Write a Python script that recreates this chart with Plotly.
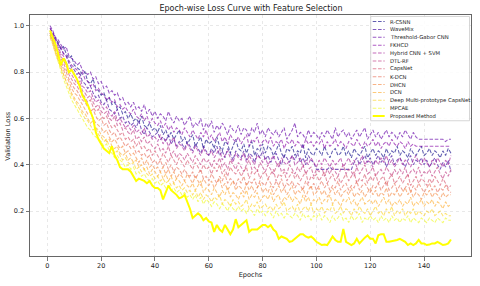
import plotly.graph_objects as go

epochs = list(range(1, 151))

names = ["R-CSNN", "WaveMix", "Threshold-Gabor CNN", "FKHCD", "Hybrid CNN + SVM",
         "DTL-RF", "CapsNet", "K-DCN", "DHCN", "DCN", "Deep Multi-prototype CapsNet",
         "MPCAE", "Proposed Method"]

r_csnn = [0.97, 0.96, 0.94, 0.93, 0.90, 0.91, 0.88, 0.86, 0.87, 0.83,
          0.82, 0.81, 0.79, 0.80, 0.76, 0.75, 0.77, 0.73, 0.72, 0.70,
          0.71, 0.68, 0.69, 0.66, 0.67, 0.64, 0.65, 0.62, 0.63, 0.60,
          0.62, 0.59, 0.60, 0.58, 0.61, 0.57, 0.56, 0.58, 0.55, 0.56,
          0.54, 0.57, 0.53, 0.55, 0.52, 0.54, 0.51, 0.53, 0.55, 0.50,
          0.52, 0.49, 0.51, 0.53, 0.48, 0.50, 0.52, 0.47, 0.51, 0.49,
          0.50, 0.47, 0.52, 0.48, 0.46, 0.50, 0.49, 0.45, 0.48, 0.51,
          0.47, 0.46, 0.49, 0.45, 0.48, 0.50, 0.44, 0.47, 0.46, 0.49,
          0.45, 0.48, 0.47, 0.44, 0.46, 0.49, 0.45, 0.43, 0.47, 0.46,
          0.48, 0.44, 0.46, 0.45, 0.49, 0.43, 0.47, 0.45, 0.44, 0.47,
          0.46, 0.44, 0.48, 0.45, 0.43, 0.46, 0.47, 0.44, 0.45, 0.48,
          0.44, 0.46, 0.43, 0.47, 0.45, 0.44, 0.46, 0.48, 0.43, 0.45,
          0.47, 0.44, 0.46, 0.45, 0.43, 0.47, 0.44, 0.46, 0.45, 0.48,
          0.44, 0.46, 0.45, 0.43, 0.47, 0.45, 0.44, 0.46, 0.48, 0.44,
          0.45, 0.47, 0.44, 0.46, 0.45, 0.43, 0.46, 0.44, 0.47, 0.45]

wavemix = [0.99, 0.97, 0.95, 0.92, 0.90, 0.88, 0.87, 0.84, 0.82, 0.81,
           0.79, 0.80, 0.76, 0.75, 0.73, 0.74, 0.71, 0.69, 0.70, 0.67,
           0.66, 0.68, 0.64, 0.63, 0.62, 0.64, 0.60, 0.61, 0.58, 0.59,
           0.57, 0.58, 0.56, 0.59, 0.55, 0.53, 0.56, 0.54, 0.52, 0.53,
           0.54, 0.51, 0.52, 0.50, 0.53, 0.49, 0.51, 0.48, 0.50, 0.49,
           0.47, 0.50, 0.48, 0.46, 0.49, 0.47, 0.45, 0.48, 0.46, 0.44,
           0.47, 0.45, 0.48, 0.44, 0.46, 0.43, 0.47, 0.45, 0.42, 0.46,
           0.44, 0.43, 0.46, 0.42, 0.45, 0.44, 0.41, 0.45, 0.43, 0.46,
           0.42, 0.44, 0.41, 0.43, 0.45, 0.42, 0.40, 0.44, 0.43, 0.41,
           0.44, 0.42, 0.45, 0.41, 0.43, 0.40, 0.44, 0.42, 0.41, 0.38,
           0.38, 0.38, 0.38, 0.38, 0.39, 0.38, 0.38, 0.38, 0.38, 0.38,
           0.38, 0.38, 0.38, 0.41, 0.43, 0.40, 0.42, 0.44, 0.41, 0.43,
           0.40, 0.42, 0.44, 0.41, 0.43, 0.39, 0.42, 0.44, 0.40, 0.42,
           0.43, 0.41, 0.39, 0.42, 0.44, 0.40, 0.42, 0.41, 0.43, 0.40,
           0.42, 0.39, 0.41, 0.43, 0.40, 0.38, 0.41, 0.39, 0.42, 0.37]

threshold_gabor = [1.00, 0.98, 0.95, 0.94, 0.92, 0.90, 0.91, 0.87, 0.86, 0.85,
                   0.83, 0.84, 0.81, 0.80, 0.79, 0.80, 0.77, 0.78, 0.75, 0.76,
                   0.73, 0.74, 0.71, 0.72, 0.70, 0.71, 0.68, 0.69, 0.66, 0.67,
                   0.65, 0.67, 0.64, 0.65, 0.63, 0.66, 0.62, 0.64, 0.61, 0.63,
                   0.60, 0.62, 0.61, 0.59, 0.63, 0.60, 0.58, 0.61, 0.59, 0.60,
                   0.57, 0.59, 0.61, 0.56, 0.58, 0.57, 0.60, 0.55, 0.58, 0.56,
                   0.59, 0.54, 0.57, 0.55, 0.58, 0.56, 0.53, 0.57, 0.55, 0.54,
                   0.57, 0.53, 0.56, 0.55, 0.52, 0.56, 0.54, 0.58, 0.53, 0.55,
                   0.52, 0.56, 0.54, 0.53, 0.55, 0.52, 0.54, 0.56, 0.51, 0.53,
                   0.55, 0.58, 0.52, 0.54, 0.53, 0.51, 0.55, 0.52, 0.54, 0.53,
                   0.51, 0.54, 0.52, 0.55, 0.53, 0.51, 0.56, 0.52, 0.54, 0.55,
                   0.52, 0.54, 0.51, 0.53, 0.55, 0.52, 0.54, 0.56, 0.51, 0.53,
                   0.55, 0.52, 0.54, 0.51, 0.53, 0.55, 0.52, 0.54, 0.53, 0.51,
                   0.54, 0.52, 0.55, 0.53, 0.51, 0.54, 0.52, 0.51, 0.51, 0.51,
                   0.51, 0.51, 0.51, 0.51, 0.51, 0.51, 0.51, 0.50, 0.51, 0.51]

fkhcd = [0.99, 0.97, 0.94, 0.92, 0.91, 0.88, 0.87, 0.85, 0.83, 0.82,
         0.81, 0.79, 0.80, 0.77, 0.76, 0.74, 0.75, 0.72, 0.73, 0.71,
         0.70, 0.68, 0.69, 0.67, 0.68, 0.65, 0.66, 0.64, 0.65, 0.63,
         0.62, 0.64, 0.61, 0.60, 0.62, 0.59, 0.61, 0.58, 0.60, 0.58,
         0.57, 0.59, 0.56, 0.58, 0.55, 0.57, 0.54, 0.56, 0.55, 0.53,
         0.56, 0.54, 0.52, 0.55, 0.53, 0.51, 0.54, 0.52, 0.55, 0.51,
         0.53, 0.50, 0.52, 0.54, 0.50, 0.52, 0.49, 0.53, 0.51, 0.50,
         0.52, 0.49, 0.51, 0.53, 0.48, 0.51, 0.50, 0.52, 0.48, 0.50,
         0.51, 0.49, 0.52, 0.48, 0.50, 0.49, 0.51, 0.47, 0.50, 0.49,
         0.51, 0.48, 0.50, 0.49, 0.47, 0.51, 0.49, 0.50, 0.48, 0.50,
         0.49, 0.51, 0.47, 0.50, 0.48, 0.49, 0.51, 0.48, 0.50, 0.49,
         0.47, 0.50, 0.49, 0.48, 0.51, 0.49, 0.47, 0.50, 0.48, 0.49,
         0.51, 0.48, 0.50, 0.47, 0.49, 0.50, 0.48, 0.51, 0.49, 0.48,
         0.50, 0.49, 0.47, 0.50, 0.48, 0.49, 0.48, 0.48, 0.48, 0.48,
         0.48, 0.48, 0.48, 0.48, 0.48, 0.48, 0.48, 0.48, 0.48, 0.48]

hybrid_cnn_svm = [0.98, 0.96, 0.93, 0.91, 0.88, 0.87, 0.84, 0.82, 0.81, 0.79,
                  0.77, 0.78, 0.74, 0.73, 0.71, 0.72, 0.69, 0.67, 0.68, 0.66,
                  0.64, 0.65, 0.62, 0.61, 0.63, 0.59, 0.60, 0.58, 0.56, 0.57,
                  0.55, 0.57, 0.54, 0.55, 0.53, 0.56, 0.52, 0.53, 0.51, 0.52,
                  0.50, 0.53, 0.49, 0.51, 0.48, 0.50, 0.52, 0.47, 0.49, 0.48,
                  0.46, 0.49, 0.47, 0.45, 0.48, 0.46, 0.44, 0.47, 0.45, 0.44,
                  0.46, 0.43, 0.45, 0.47, 0.42, 0.44, 0.46, 0.43, 0.41, 0.45,
                  0.43, 0.42, 0.45, 0.41, 0.44, 0.42, 0.40, 0.44, 0.43, 0.41,
                  0.43, 0.40, 0.42, 0.44, 0.41, 0.39, 0.43, 0.41, 0.40, 0.42,
                  0.44, 0.40, 0.41, 0.43, 0.39, 0.42, 0.40, 0.43, 0.41, 0.39,
                  0.42, 0.40, 0.43, 0.41, 0.39, 0.42, 0.40, 0.41, 0.43, 0.39,
                  0.41, 0.43, 0.40, 0.42, 0.39, 0.41, 0.44, 0.40, 0.42, 0.41,
                  0.39, 0.42, 0.40, 0.43, 0.41, 0.44, 0.40, 0.42, 0.39, 0.41,
                  0.43, 0.40, 0.42, 0.41, 0.39, 0.42, 0.44, 0.41, 0.40, 0.43,
                  0.41, 0.39, 0.42, 0.40, 0.43, 0.41, 0.39, 0.42, 0.40, 0.44]

dtl_rf = [0.97, 0.95, 0.92, 0.90, 0.87, 0.85, 0.83, 0.80, 0.79, 0.77,
          0.75, 0.76, 0.72, 0.71, 0.69, 0.70, 0.67, 0.65, 0.66, 0.63,
          0.62, 0.63, 0.60, 0.59, 0.61, 0.57, 0.58, 0.55, 0.56, 0.54,
          0.53, 0.55, 0.51, 0.52, 0.50, 0.52, 0.49, 0.50, 0.48, 0.47,
          0.49, 0.46, 0.47, 0.45, 0.48, 0.44, 0.46, 0.43, 0.45, 0.44,
          0.42, 0.45, 0.43, 0.41, 0.44, 0.42, 0.40, 0.43, 0.41, 0.42,
          0.39, 0.42, 0.40, 0.43, 0.39, 0.41, 0.38, 0.42, 0.40, 0.38,
          0.41, 0.39, 0.37, 0.40, 0.42, 0.38, 0.39, 0.37, 0.41, 0.39,
          0.37, 0.40, 0.38, 0.36, 0.39, 0.41, 0.37, 0.38, 0.36, 0.40,
          0.38, 0.36, 0.39, 0.37, 0.40, 0.36, 0.38, 0.39, 0.35, 0.38,
          0.37, 0.39, 0.35, 0.38, 0.36, 0.39, 0.37, 0.35, 0.38, 0.40,
          0.36, 0.38, 0.37, 0.35, 0.39, 0.36, 0.38, 0.40, 0.36, 0.37,
          0.39, 0.35, 0.37, 0.38, 0.36, 0.39, 0.37, 0.35, 0.38, 0.36,
          0.38, 0.36, 0.39, 0.35, 0.37, 0.38, 0.36, 0.39, 0.35, 0.37,
          0.36, 0.38, 0.35, 0.37, 0.39, 0.36, 0.34, 0.37, 0.35, 0.38]

capsnet = [0.96, 0.94, 0.91, 0.89, 0.86, 0.84, 0.81, 0.79, 0.77, 0.75,
           0.74, 0.72, 0.71, 0.69, 0.67, 0.68, 0.65, 0.63, 0.64, 0.61,
           0.60, 0.61, 0.58, 0.56, 0.57, 0.55, 0.53, 0.54, 0.51, 0.52,
           0.50, 0.51, 0.48, 0.50, 0.47, 0.48, 0.46, 0.47, 0.44, 0.46,
           0.44, 0.42, 0.45, 0.43, 0.41, 0.44, 0.42, 0.40, 0.43, 0.41,
           0.39, 0.42, 0.40, 0.38, 0.41, 0.39, 0.37, 0.40, 0.38, 0.39,
           0.36, 0.39, 0.37, 0.40, 0.36, 0.38, 0.35, 0.39, 0.37, 0.36,
           0.38, 0.35, 0.37, 0.39, 0.34, 0.37, 0.36, 0.38, 0.34, 0.36,
           0.37, 0.34, 0.36, 0.38, 0.33, 0.36, 0.35, 0.37, 0.33, 0.35,
           0.37, 0.34, 0.36, 0.33, 0.35, 0.37, 0.32, 0.35, 0.34, 0.36,
           0.33, 0.35, 0.37, 0.32, 0.34, 0.36, 0.33, 0.35, 0.32, 0.34,
           0.36, 0.33, 0.35, 0.37, 0.32, 0.34, 0.33, 0.36, 0.32, 0.35,
           0.33, 0.36, 0.32, 0.34, 0.35, 0.31, 0.34, 0.36, 0.32, 0.33,
           0.35, 0.32, 0.34, 0.36, 0.31, 0.33, 0.35, 0.32, 0.34, 0.33,
           0.31, 0.34, 0.32, 0.35, 0.33, 0.31, 0.34, 0.32, 0.30, 0.31]

k_dcn = [0.97, 0.93, 0.90, 0.87, 0.85, 0.82, 0.80, 0.77, 0.75, 0.73,
         0.72, 0.70, 0.68, 0.67, 0.65, 0.63, 0.64, 0.61, 0.59, 0.60,
         0.57, 0.58, 0.55, 0.53, 0.54, 0.51, 0.52, 0.50, 0.48, 0.49,
         0.47, 0.48, 0.45, 0.46, 0.44, 0.45, 0.43, 0.44, 0.41, 0.42,
         0.40, 0.42, 0.39, 0.41, 0.38, 0.40, 0.37, 0.39, 0.38, 0.36,
         0.38, 0.36, 0.35, 0.37, 0.34, 0.36, 0.38, 0.34, 0.35, 0.33,
         0.36, 0.34, 0.32, 0.35, 0.33, 0.36, 0.32, 0.34, 0.33, 0.31,
         0.34, 0.32, 0.35, 0.31, 0.33, 0.32, 0.34, 0.30, 0.33, 0.32,
         0.31, 0.34, 0.32, 0.30, 0.33, 0.31, 0.34, 0.30, 0.32, 0.31,
         0.33, 0.30, 0.32, 0.31, 0.29, 0.33, 0.31, 0.30, 0.32, 0.29,
         0.31, 0.33, 0.30, 0.32, 0.29, 0.31, 0.30, 0.33, 0.29, 0.31,
         0.32, 0.29, 0.31, 0.30, 0.33, 0.29, 0.31, 0.32, 0.30, 0.28,
         0.31, 0.30, 0.32, 0.29, 0.31, 0.33, 0.29, 0.30, 0.32, 0.29,
         0.31, 0.29, 0.30, 0.32, 0.28, 0.31, 0.29, 0.32, 0.30, 0.28,
         0.30, 0.32, 0.29, 0.31, 0.28, 0.30, 0.29, 0.31, 0.29, 0.28]

dhcn = [0.96, 0.93, 0.89, 0.86, 0.83, 0.81, 0.78, 0.76, 0.73, 0.71,
        0.70, 0.68, 0.66, 0.64, 0.62, 0.63, 0.60, 0.58, 0.57, 0.56,
        0.54, 0.55, 0.52, 0.50, 0.51, 0.49, 0.47, 0.48, 0.45, 0.46,
        0.44, 0.45, 0.43, 0.41, 0.43, 0.40, 0.42, 0.39, 0.40, 0.38,
        0.39, 0.37, 0.39, 0.36, 0.38, 0.35, 0.37, 0.34, 0.36, 0.35,
        0.33, 0.36, 0.34, 0.32, 0.35, 0.33, 0.31, 0.34, 0.32, 0.31,
        0.33, 0.30, 0.32, 0.34, 0.30, 0.32, 0.29, 0.31, 0.33, 0.29,
        0.31, 0.30, 0.28, 0.32, 0.29, 0.31, 0.28, 0.30, 0.32, 0.28,
        0.30, 0.28, 0.31, 0.27, 0.29, 0.31, 0.28, 0.30, 0.27, 0.29,
        0.31, 0.27, 0.29, 0.28, 0.30, 0.26, 0.29, 0.31, 0.27, 0.28,
        0.30, 0.27, 0.29, 0.26, 0.28, 0.30, 0.27, 0.29, 0.26, 0.28,
        0.29, 0.27, 0.30, 0.26, 0.28, 0.27, 0.29, 0.26, 0.28, 0.30,
        0.27, 0.29, 0.26, 0.28, 0.27, 0.30, 0.26, 0.28, 0.27, 0.29,
        0.26, 0.28, 0.30, 0.27, 0.29, 0.26, 0.28, 0.27, 0.25, 0.28,
        0.27, 0.29, 0.26, 0.28, 0.27, 0.25, 0.28, 0.26, 0.27, 0.27]

dcn = [0.95, 0.92, 0.88, 0.85, 0.82, 0.79, 0.76, 0.74, 0.71, 0.69,
       0.67, 0.66, 0.63, 0.62, 0.60, 0.58, 0.59, 0.56, 0.55, 0.53,
       0.52, 0.50, 0.51, 0.48, 0.47, 0.48, 0.45, 0.44, 0.45, 0.42,
       0.43, 0.41, 0.42, 0.39, 0.40, 0.38, 0.39, 0.36, 0.38, 0.37,
       0.35, 0.37, 0.34, 0.36, 0.33, 0.35, 0.32, 0.34, 0.33, 0.31,
       0.33, 0.31, 0.30, 0.32, 0.29, 0.31, 0.33, 0.28, 0.30, 0.29,
       0.27, 0.30, 0.28, 0.26, 0.29, 0.27, 0.30, 0.26, 0.28, 0.27,
       0.25, 0.28, 0.26, 0.29, 0.25, 0.27, 0.26, 0.28, 0.24, 0.26,
       0.27, 0.25, 0.28, 0.24, 0.26, 0.27, 0.23, 0.26, 0.25, 0.27,
       0.24, 0.26, 0.25, 0.23, 0.27, 0.24, 0.26, 0.23, 0.25, 0.24,
       0.26, 0.23, 0.25, 0.24, 0.27, 0.23, 0.25, 0.24, 0.22, 0.25,
       0.24, 0.26, 0.23, 0.25, 0.22, 0.24, 0.26, 0.23, 0.24, 0.25,
       0.23, 0.25, 0.22, 0.24, 0.26, 0.23, 0.25, 0.22, 0.24, 0.23,
       0.25, 0.22, 0.24, 0.23, 0.26, 0.22, 0.24, 0.23, 0.25, 0.22,
       0.24, 0.23, 0.25, 0.22, 0.24, 0.23, 0.21, 0.24, 0.22, 0.23]

deep_multi_capsnet = [0.97, 0.93, 0.89, 0.85, 0.82, 0.79, 0.76, 0.73, 0.70, 0.68,
                      0.66, 0.64, 0.62, 0.60, 0.59, 0.57, 0.55, 0.56, 0.53, 0.52,
                      0.50, 0.51, 0.48, 0.47, 0.45, 0.46, 0.44, 0.42, 0.43, 0.41,
                      0.40, 0.41, 0.38, 0.39, 0.37, 0.38, 0.36, 0.35, 0.36, 0.34,
                      0.35, 0.33, 0.34, 0.32, 0.33, 0.31, 0.32, 0.30, 0.31, 0.29,
                      0.30, 0.28, 0.29, 0.27, 0.29, 0.26, 0.28, 0.25, 0.27, 0.26,
                      0.24, 0.26, 0.25, 0.27, 0.23, 0.25, 0.24, 0.22, 0.25, 0.23,
                      0.24, 0.22, 0.23, 0.25, 0.21, 0.23, 0.22, 0.24, 0.21, 0.22,
                      0.23, 0.21, 0.22, 0.20, 0.23, 0.21, 0.22, 0.24, 0.20, 0.21,
                      0.22, 0.20, 0.23, 0.19, 0.21, 0.22, 0.20, 0.23, 0.19, 0.21,
                      0.20, 0.22, 0.19, 0.21, 0.20, 0.23, 0.19, 0.20, 0.22, 0.19,
                      0.21, 0.20, 0.18, 0.21, 0.19, 0.22, 0.20, 0.19, 0.21, 0.18,
                      0.20, 0.22, 0.19, 0.20, 0.18, 0.21, 0.19, 0.22, 0.18, 0.20,
                      0.19, 0.21, 0.18, 0.20, 0.19, 0.21, 0.18, 0.20, 0.19, 0.18,
                      0.20, 0.19, 0.21, 0.18, 0.19, 0.20, 0.18, 0.19, 0.18, 0.18]

mpcae = [0.96, 0.92, 0.88, 0.84, 0.80, 0.77, 0.74, 0.71, 0.68, 0.66,
         0.64, 0.62, 0.60, 0.58, 0.56, 0.55, 0.53, 0.52, 0.51, 0.50,
         0.48, 0.49, 0.46, 0.45, 0.43, 0.44, 0.42, 0.41, 0.39, 0.40,
         0.38, 0.39, 0.36, 0.37, 0.35, 0.36, 0.34, 0.33, 0.34, 0.32,
         0.33, 0.31, 0.32, 0.30, 0.31, 0.29, 0.30, 0.28, 0.29, 0.27,
         0.28, 0.26, 0.27, 0.25, 0.27, 0.24, 0.26, 0.23, 0.25, 0.24,
         0.22, 0.24, 0.23, 0.21, 0.23, 0.22, 0.20, 0.23, 0.21, 0.20,
         0.22, 0.20, 0.21, 0.19, 0.21, 0.20, 0.18, 0.21, 0.19, 0.20,
         0.18, 0.20, 0.19, 0.17, 0.20, 0.18, 0.19, 0.17, 0.19, 0.18,
         0.17, 0.19, 0.18, 0.16, 0.19, 0.17, 0.18, 0.16, 0.18, 0.17,
         0.19, 0.16, 0.18, 0.17, 0.15, 0.18, 0.16, 0.17, 0.19, 0.16,
         0.17, 0.15, 0.18, 0.16, 0.17, 0.19, 0.15, 0.17, 0.16, 0.18,
         0.16, 0.17, 0.15, 0.18, 0.16, 0.17, 0.15, 0.18, 0.16, 0.17,
         0.15, 0.17, 0.16, 0.18, 0.15, 0.17, 0.16, 0.15, 0.17, 0.16,
         0.15, 0.17, 0.16, 0.15, 0.17, 0.16, 0.15, 0.17, 0.16, 0.16]

proposed = [0.98, 0.95, 0.92, 0.88, 0.83, 0.86, 0.84, 0.80, 0.81, 0.79,
            0.77, 0.74, 0.70, 0.68, 0.66, 0.63, 0.60, 0.54, 0.51, 0.49,
            0.47, 0.46, 0.45, 0.48, 0.44, 0.42, 0.39, 0.38, 0.38, 0.38,
            0.37, 0.35, 0.33, 0.34, 0.335, 0.33, 0.32, 0.33, 0.31, 0.30,
            0.30, 0.29, 0.25, 0.28, 0.31, 0.29, 0.28, 0.27, 0.255, 0.26,
            0.27, 0.24, 0.21, 0.17, 0.18, 0.19, 0.18, 0.16, 0.17, 0.155,
            0.15, 0.11, 0.14, 0.12, 0.11, 0.14, 0.12, 0.10, 0.12, 0.165,
            0.13, 0.14, 0.15, 0.16, 0.11, 0.12, 0.12, 0.12, 0.13, 0.14,
            0.14, 0.13, 0.14, 0.12, 0.11, 0.08, 0.09, 0.085, 0.08, 0.067,
            0.07, 0.08, 0.09, 0.10, 0.10, 0.09, 0.085, 0.09, 0.08, 0.067,
            0.06, 0.053, 0.055, 0.053, 0.07, 0.09, 0.075, 0.067, 0.067, 0.123,
            0.067, 0.06, 0.053, 0.06, 0.08, 0.06, 0.075, 0.085, 0.095, 0.08,
            0.08, 0.06, 0.095, 0.10, 0.10, 0.067, 0.067, 0.07, 0.07, 0.075,
            0.08, 0.075, 0.067, 0.053, 0.06, 0.053, 0.06, 0.075, 0.06, 0.06,
            0.053, 0.055, 0.06, 0.06, 0.067, 0.06, 0.053, 0.055, 0.06, 0.077]

series = [r_csnn, wavemix, threshold_gabor, fkhcd, hybrid_cnn_svm, dtl_rf, capsnet,
          k_dcn, dhcn, dcn, deep_multi_capsnet, mpcae, proposed]

x_ticks = [0, 20, 40, 60, 80, 100, 120, 140]
y_ticks = [0.2, 0.4, 0.6, 0.8, 1.0]
y_tick_labels = ["0.2", "0.4", "0.6", "0.8", "1.0"]

# plasma colormap samples for the 12 baselines, solid yellow for proposed
colors = ["#0d0887", "#3e049c", "#6300a7", "#8606a6", "#a62098", "#c03a83",
          "#d5546e", "#e76f5a", "#f58c46", "#fdad32", "#fcd225", "#f0f921", "#ffff00"]

W, H = 480, 286
L, R, T, B = 30, 472, 15, 260
FONT = "DejaVu Sans"
DASH = "3.6px,1.7px"
ALPHA = 0.65

fig = go.Figure()
for i, (nm, ys) in enumerate(zip(names, series)):
    last = i == len(series) - 1
    fig.add_trace(go.Scatter(
        x=epochs, y=ys, mode="lines", name=nm, showlegend=False, hoverinfo="skip",
        line=dict(color=colors[i], width=2 if last else 1.05,
                  dash="solid" if last else DASH),
        opacity=1.0 if last else ALPHA,
    ))

def px_x(p):
    return (p - L) / (R - L)

def px_y(p):
    return (B - p) / (B - T)

shapes = []
annotations = []

# legend box
lx0, lx1, ly0, ly1 = 371.5, 470.5, 16.5, 122.5
shapes.append(dict(type="rect", xref="paper", yref="paper",
                   x0=px_x(lx0), x1=px_x(lx1), y0=px_y(ly1), y1=px_y(ly0),
                   fillcolor="rgba(255,255,255,0.85)",
                   line=dict(color="#cccccc", width=0.8), layer="above"))
for i, nm in enumerate(names):
    yc = 21.7 + 8.0 * i
    last = i == len(names) - 1
    shapes.append(dict(type="line", xref="paper", yref="paper",
                       x0=px_x(373.5), x1=px_x(385.5), y0=px_y(yc), y1=px_y(yc),
                       line=dict(color=colors[i], width=2 if last else 1.05,
                                 dash="solid" if last else DASH),
                       opacity=1.0 if last else ALPHA, layer="above"))
    annotations.append(dict(text=nm, xref="paper", yref="paper",
                            x=px_x(388.5), y=px_y(yc), xanchor="left", yanchor="middle",
                            showarrow=False, font=dict(family=FONT, size=5.3, color="#222")))

annotations.append(dict(text="Validation Loss", xref="paper", yref="paper",
                        x=px_x(7.3), y=0.5, xanchor="center", yanchor="middle",
                        textangle=-90, showarrow=False,
                        font=dict(family=FONT, size=6.6, color="#222")))

axis_common = dict(showline=True, mirror=True, linecolor="#666", linewidth=1,
                   ticks="outside", ticklen=3.5, tickwidth=0.8, tickcolor="#555",
                   showgrid=True, gridcolor="#d8d8d8", gridwidth=0.6, griddash="dot",
                   zeroline=False, tickfont=dict(family=FONT, size=6.5, color="#222"))

fig.update_layout(
    width=W, height=H,
    margin=dict(l=L, r=W - R, t=T, b=H - B, pad=0),
    paper_bgcolor="white", plot_bgcolor="white",
    title=dict(text="Epoch-wise Loss Curve with Feature Selection",
               x=(L + R) / 2 / W, xanchor="center", xref="container",
               y=1 - 8.5 / H, yanchor="middle", yref="container",
               font=dict(family=FONT, size=8.0, color="#222")),
    xaxis=dict(range=[-6.45, 157.45], tickvals=x_ticks,
               title=dict(text="Epochs", standoff=3, font=dict(family=FONT, size=6.6, color="#222")),
               **axis_common),
    yaxis=dict(range=[0.0057, 1.047], tickvals=y_ticks, ticktext=y_tick_labels, **axis_common),
    shapes=shapes, annotations=annotations, showlegend=False, hovermode=False,
)

fig.write_html("out.html", config={"displayModeBar": False, "staticPlot": True},
               post_script="document.body.style.margin='0px';document.body.style.padding='0px';")
